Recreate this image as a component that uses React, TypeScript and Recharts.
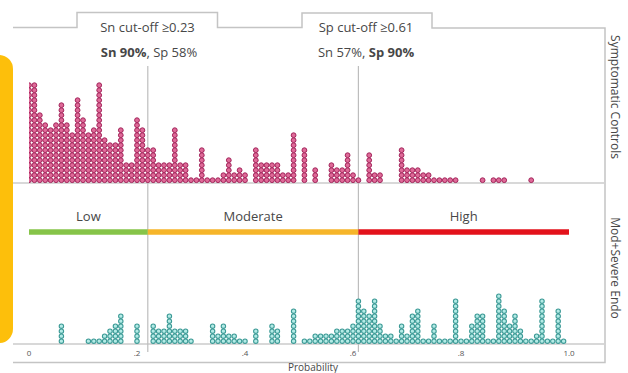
import { ScatterChart, Scatter, XAxis, YAxis, ReferenceLine } from "recharts"

// dots per 0.01-wide probability bin (bin i starts at i / 100)
const controlCounts = [
  20, 20, 14, 12, 11, 12, 16, 12, 10, 17,
  13, 10, 11, 20, 9, 8, 8, 11, 4, 4,
  13, 11, 7, 7, 4, 4, 4, 11, 4, 4,
  1, 1, 7, 1, 1, 1, 2, 5, 2, 3,
  2, 0, 7, 4, 4, 4, 4, 2, 2, 10,
  0, 7, 0, 3, 0, 0, 4, 3, 3, 6,
  2, 1, 0, 6, 2, 2, 0, 0, 0, 7,
  3, 3, 3, 2, 2, 1, 1, 1, 1, 1,
  0, 0, 0, 0, 1, 0, 1, 1, 1, 0,
  0, 0, 0, 1, 0, 0, 0, 0, 0, 0,
]
const endoCounts = [
  0, 0, 0, 0, 0, 0, 4, 0, 0, 0,
  0, 1, 1, 1, 2, 3, 4, 6, 0, 0,
  4, 0, 0, 4, 3, 3, 6, 3, 3, 3,
  1, 0, 0, 0, 4, 2, 4, 2, 2, 1,
  1, 0, 3, 0, 0, 4, 3, 0, 0, 7,
  0, 1, 1, 2, 2, 2, 2, 3, 3, 3,
  4, 9, 7, 6, 9, 4, 2, 2, 1, 4,
  2, 6, 7, 1, 1, 4, 1, 1, 1, 9,
  1, 1, 4, 6, 6, 1, 1, 10, 7, 4,
  6, 3, 1, 1, 2, 9, 1, 1, 7, 1,
]
const binWidth = 0.01

const xTicks = [0, 0.2, 0.4, 0.6, 0.8, 1.0]
const xTickLabels = ["0", ".2", ".4", ".6", ".8", "1.0"]

// where the cut-off lines sit on the axis
const cutoffLines = [0.22, 0.61]
const riskNames = ["Low", "Moderate", "High"]
const riskEdges = [0, 0.22, 0.61, 1.0]
const riskColors = ["#86c449", "#f6b52a", "#e3121b"]

// layout
const W = 628
const H = 373
const PLOT_LEFT = 29
const PLOT_RIGHT = 569
const PLOT_TOP = 27
const PLOT_BOTTOM = 344
const PITCH = 5
const TOP_BASE = 183
const BOT_BASE = 344
const span = (PLOT_BOTTOM - PLOT_TOP) / PITCH
const topLo = -(PLOT_BOTTOM - (TOP_BASE - 2.8)) / PITCH
const botLo = -(PLOT_BOTTOM - (BOT_BASE - 2.8)) / PITCH
const pxToBot = (px: number) => botLo + (PLOT_BOTTOM - px) / PITCH

const toPoints = (counts: number[]) =>
  counts.flatMap((n, i) => Array.from({ length: n }, (_, k) => ({ x: i * binWidth, y: k })))

const controlPoints = toPoints(controlCounts)
const endoPoints = toPoints(endoCounts)

const PinkDot = (p: any) => (
  <circle cx={p.cx} cy={p.cy} r={2.4} fill="#df6a98" stroke="#a3255b" strokeWidth={1} />
)
const TealDot = (p: any) => (
  <circle cx={p.cx} cy={p.cy} r={2.2} fill="#b4ebe6" stroke="#3c9a96" strokeWidth={1.1} />
)

const frameColor = "#c4c4c4"
const textColor = "#474747"

export default function App() {
  return (
    <div style={{ position: "absolute", left: 0, top: 0, width: W, height: H, fontFamily: "'Open Sans', sans-serif", background: "#fff", overflow: "hidden" }}>
      <svg width={W} height={H} style={{ position: "absolute", left: 0, top: 0 }}>
        <path
          d="M13 27.5 H77 V12.5 H217.5 V27.5 H302 V13 H432 V28 H605 V362.5 H13"
          fill="none"
          stroke={frameColor}
          strokeWidth={1.5}
        />
        <line x1={13} x2={604} y1={TOP_BASE} y2={TOP_BASE} stroke="#cbcbcb" strokeWidth={1.5} />
        <line x1={13} x2={604} y1={BOT_BASE} y2={BOT_BASE} stroke="#cbcbcb" strokeWidth={1.5} />
        <g fill={textColor} fontSize={13} textAnchor="middle" dominantBaseline="central">
          <text x={147.5} y={27}>Sn cut-off ≥0.23</text>
          <text x={149} y={52}>
            <tspan fontWeight={700}>Sn 90%</tspan>, Sp 58%
          </text>
          <text x={366} y={27}>Sp cut-off ≥0.61</text>
          <text x={366} y={52}>
            Sn 57%, <tspan fontWeight={700}>Sp 90%</tspan>
          </text>
        </g>
        <g fill={textColor} fontSize={12} textAnchor="middle" dominantBaseline="central">
          <text transform="translate(615,97) rotate(90)">Symptomatic Controls</text>
          <text transform="translate(615,268) rotate(90)">Mod+Severe Endo</text>
        </g>
        <text x={313} y={366.5} fill={textColor} fontSize={10} textAnchor="middle" dominantBaseline="central">
          Probability
        </text>
      </svg>
      <div style={{ position: "absolute", left: 0, top: 0 }}>
        <ScatterChart
          width={W}
          height={H}
          margin={{ top: PLOT_TOP, right: W - PLOT_RIGHT, bottom: 0, left: PLOT_LEFT }}
        >
          <XAxis
            type="number"
            dataKey="x"
            domain={[0, 1]}
            allowDataOverflow
            ticks={xTicks}
            interval={0}
            tickFormatter={(v) => xTickLabels[xTicks.indexOf(v)] ?? ""}
            axisLine={false}
            tickLine={false}
            tickSize={4}
            tick={{ fontSize: 8, fill: "#555" }}
            height={H - PLOT_BOTTOM}
          />
          <YAxis yAxisId="top" type="number" dataKey="y" hide allowDataOverflow domain={[topLo, topLo + span]} />
          <YAxis yAxisId="bot" type="number" dataKey="y" hide allowDataOverflow domain={[botLo, botLo + span]} />
          {cutoffLines.map((c) => (
            <ReferenceLine
              key={c}
              yAxisId="bot"
              ifOverflow="visible"
              segment={[
                { x: c, y: pxToBot(66) },
                { x: c, y: pxToBot(352) },
              ]}
              stroke="#bdbdbd"
              strokeWidth={1.2}
            />
          ))}
          {riskNames.map((name, i) => (
            <ReferenceLine
              key={name}
              yAxisId="bot"
              ifOverflow="visible"
              segment={[
                { x: riskEdges[i], y: pxToBot(232) },
                { x: riskEdges[i + 1], y: pxToBot(232) },
              ]}
              stroke={riskColors[i]}
              strokeWidth={5.5}
              label={{ value: name, position: "top", offset: 11, fill: textColor, fontSize: 13 }}
            />
          ))}
          <Scatter
            name="Symptomatic Controls"
            data={controlPoints}
            yAxisId="top"
            shape={PinkDot}
            isAnimationActive={false}
          />
          <Scatter
            name="Mod+Severe Endo"
            data={endoPoints}
            yAxisId="bot"
            shape={TealDot}
            isAnimationActive={false}
          />
        </ScatterChart>
      </div>
      <div
        style={{
          position: "absolute",
          left: -15,
          top: 55,
          width: 28,
          height: 288,
          borderRadius: 14,
          background: "#fdbf0b",
        }}
      />
    </div>
  )
}
